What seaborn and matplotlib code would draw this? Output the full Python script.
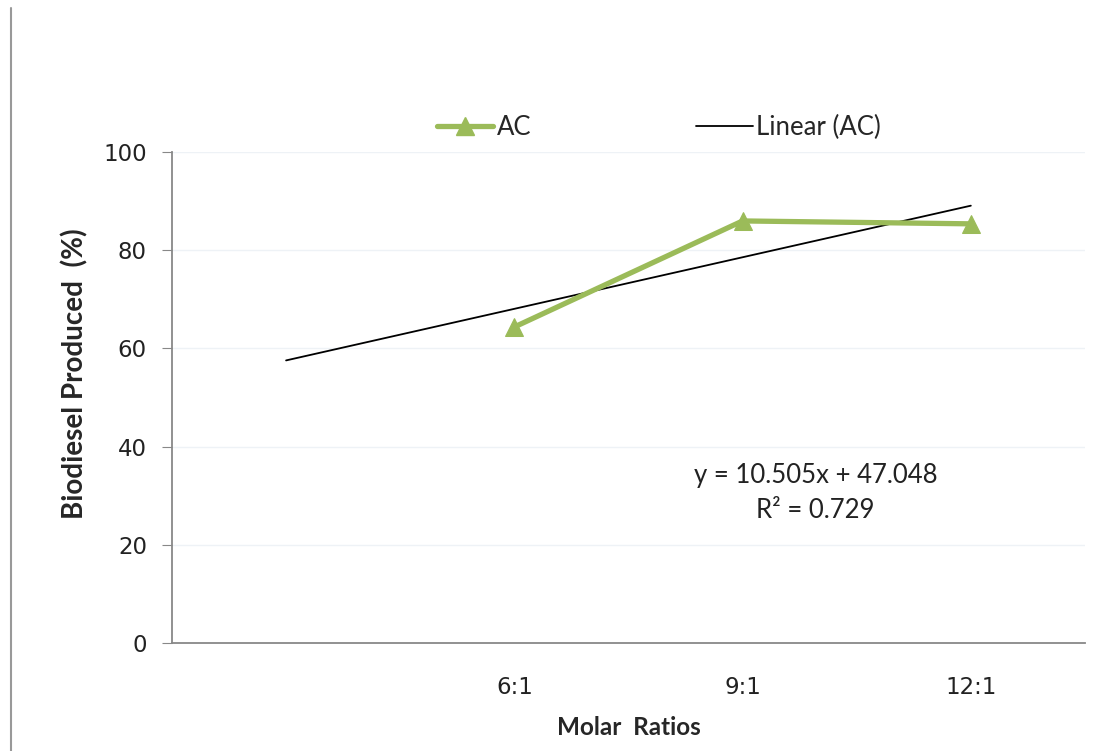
import numpy as np
import pandas as pd
import matplotlib
matplotlib.use("Agg")
import matplotlib.pyplot as plt
import seaborn as sns
from matplotlib.lines import Line2D

categories = ["", "6:1", "9:1", "12:1"]
ac_values = [np.nan, 64.36, 85.96, 85.37]
y_ticks = [0, 20, 40, 60, 80, 100]

sns.set_style("white")
plt.rcParams['font.family'] = ['DejaVu Sans']

fig = plt.figure(figsize=(11.13, 7.51), dpi=100)
ax = fig.add_axes([0.1545, 0.1438, 0.9748 - 0.1545, 0.7976 - 0.1438])

green = "#9BBB59"
pos = np.arange(len(categories))
df = pd.DataFrame({"pos": pos, "AC": ac_values})

# trendline (Excel style: x = 1..n)
xs = pos + 1
mask = ~np.isnan(df["AC"].values)
slope, intercept = np.polyfit(xs[mask], df["AC"].values[mask], 1)
trend = pd.DataFrame({"pos": pos, "trend": slope * xs + intercept})
sns.lineplot(data=trend, x="pos", y="trend", ax=ax, color="black", linewidth=1.3)

sns.lineplot(data=df.dropna(), x="pos", y="AC", ax=ax, color=green, linewidth=3.8,
             marker="^", markersize=13, markeredgecolor=green)

tick_font = {"family": ["DejaVu Sans"], "size": 16.5}
ax.set_xlim(-0.5, len(categories) - 0.5)
ax.set_ylim(0, 100)
ax.set_yticks(y_ticks)
ax.set_yticklabels([str(v) for v in y_ticks], fontdict=tick_font, color="#222222")
ax.set_xticks(pos)
ax.set_xticklabels(categories, fontdict=tick_font, color="#222222")
ax.tick_params(axis="x", length=0, pad=24)
ax.set_xticks(np.arange(-0.5, len(categories)), minor=True)
ax.tick_params(axis="x", which="minor", length=7, color="#888888", direction="out")
ax.tick_params(axis="y", length=7, color="#888888", direction="out", left=True, pad=11)
ax.grid(axis="y", color="#EEF2F6", linewidth=1)
for s in ["top", "right"]:
    ax.spines[s].set_visible(False)
for s in ["left", "bottom"]:
    ax.spines[s].set_color("#888888")
    ax.spines[s].set_linewidth(1.3)

lab_font = ["Lato", "DejaVu Sans"]
ax.set_xlabel("Molar  Ratios", fontsize=17.5, fontweight="bold", family=lab_font, labelpad=12)
ax.set_ylabel("Biodiesel Produced  (%)", fontsize=20, fontweight="bold", family=lab_font)
ax.yaxis.set_label_coords(-0.092, 0.548)

ax.text(2.32, 34.2, f"y = {slope:.3f}x + {intercept:.3f}", ha="center", va="center",
        fontsize=18.5, family=lab_font, color="#222222")
r2 = 0.729
ax.text(2.32, 27.0, f"R² = {r2:.3f}", ha="center", va="center",
        fontsize=18.5, family=lab_font, color="#222222")

handles = [Line2D([0], [0], color=green, lw=3.8, marker="^", markersize=13, markeredgecolor=green),
           Line2D([0], [0], color="black", lw=1.3)]
fig.legend(handles, ["AC", "Linear (AC)"], loc="center", bbox_to_anchor=(0.592, 0.83), ncol=2,
           frameon=False, columnspacing=6.4, handlelength=2.2, handletextpad=0.15,
           prop={"family": lab_font, "size": 18.5})

fig.add_artist(Line2D([0.0099, 0.0099], [0.0, 0.99], color="#999999", lw=1.5, transform=fig.transFigure))

fig.savefig("out.png", dpi=100)
